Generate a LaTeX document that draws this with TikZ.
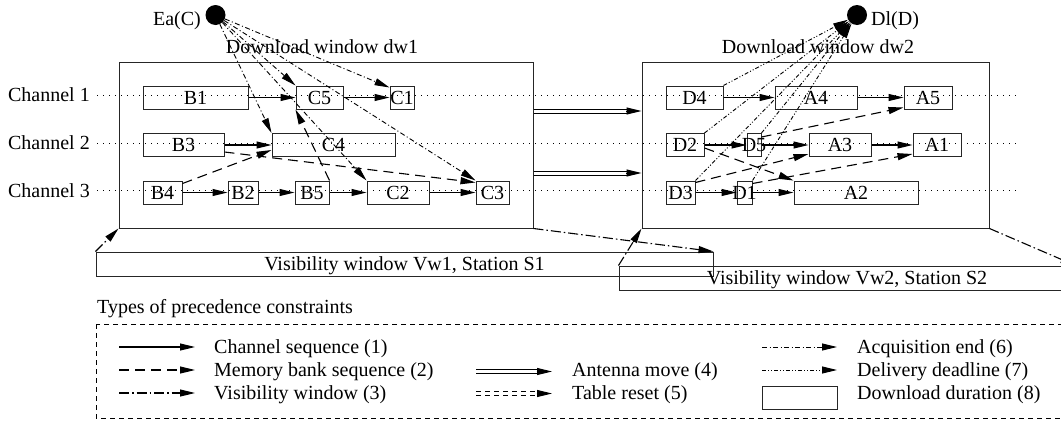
\documentclass[tikz,border=0pt]{standalone}
\usepackage{fontspec}
\setmainfont{Liberation Serif}
\usetikzlibrary{arrows.meta}
\begin{document}
\begin{tikzpicture}[x=1pt,y=-1pt,
  font=\fontsize{20}{24}\selectfont,
  >={Triangle[length=15pt,width=7pt]},
  box/.style={draw=black!85, line width=1pt, inner sep=0pt, minimum height=23pt, text height=13.2pt, text depth=0pt},
  win/.style={draw=black!85, line width=1pt, inner sep=0pt, text height=13.2pt, text depth=0pt},
  txt/.style={inner sep=0pt},
  chan/.style={line width=0.9pt, dash pattern=on 1pt off 5pt},
  seq/.style={->, line width=1.1pt},
  mem/.style={->, line width=1.1pt, dash pattern=on 10pt off 6pt},
  vis/.style={->, line width=1.1pt, dash pattern=on 10pt off 3pt on 1.5pt off 3pt},
  acq/.style={->, line width=0.9pt, dash pattern=on 5pt off 2.5pt on 1pt off 2.5pt},
  del/.style={->, line width=0.9pt, dash pattern=on 4pt off 2pt on 1pt off 2pt on 1pt off 2pt},
  ant/.style={line width=1pt, double distance=3pt},
  tab/.style={line width=1pt, double distance=3pt, dash pattern=on 5pt off 4pt}
]
\useasboundingbox (0,0) rectangle (1061,426);

% channel labels and dotted channel lines
\node[txt, anchor=base east] (ch1) at (90,101) {Channel 1};
\node[txt, anchor=base east] (ch2) at (90,149) {Channel 2};
\node[txt, anchor=base east] (ch3) at (90,197) {Channel 3};
\coordinate (ch1e) at (1018,95.5);
\coordinate (ch2e) at (1018,143);
\coordinate (ch3e) at (1018,190.5);
\draw[chan] (97,95.5) -- (ch1e);
\draw[chan] (97,143) -- (ch2e);
\draw[chan] (97,190.5) -- (ch3e);

% download windows
\node[win, minimum width=414pt, minimum height=166pt] (dw1) at (326,145) {};
\node[win, minimum width=347pt, minimum height=166pt] (dw2) at (815.5,145) {};
\node[txt, anchor=base] (dw1l) at (322,53) {Download window dw1};
\node[txt, anchor=base] (dw2l) at (818,53) {Download window dw2};

% visibility windows
\node[win, minimum width=617pt, minimum height=24pt] (vw1) at (404.5,264) {Visibility window Vw1, Station S1};
\node[win, minimum width=456pt, minimum height=24pt] (vw2) at (847,278) {Visibility window Vw2, Station S2};

% event circles
\node[circle, fill, inner sep=0pt, minimum size=20pt] (Ea) at (215.5,15) {};
\node[txt, anchor=base east] (Eal) at (201,25) {Ea(C)};
\node[circle, fill, inner sep=0pt, minimum size=20pt] (Dl) at (857,15) {};
\node[txt, anchor=base west] (Dll) at (871,25) {Dl(D)};

% boxes dw1
\node[box, minimum width=105pt] (B1) at (195.5,97.5) {\makebox[0pt]{B1}};
\node[box, minimum width=47pt] (C5) at (319.5,97.5) {\makebox[0pt]{C5}};
\node[box, minimum width=24pt] (C1) at (402,97.5) {\makebox[0pt]{C1}};
\node[box, minimum width=81pt] (B3) at (183.5,145) {\makebox[0pt]{B3}};
\node[box, minimum width=123pt] (C4) at (333.5,145) {\makebox[0pt]{C4}};
\node[box, minimum width=39pt] (B4) at (162.5,192.5) {\makebox[0pt]{B4}};
\node[box, minimum width=30pt] (B2) at (243,192.5) {\makebox[0pt]{B2}};
\node[box, minimum width=34pt] (B5) at (312,192.5) {\makebox[0pt]{B5}};
\node[box, minimum width=62pt] (C2) at (398,192.5) {\makebox[0pt]{C2}};
\node[box, minimum width=33pt] (C3) at (492.5,192.5) {\makebox[0pt]{C3}};

% boxes dw2
\node[box, minimum width=57pt] (D4) at (694.5,97.5) {\makebox[0pt]{D4}};
\node[box, minimum width=82pt] (A4) at (816,97.5) {\makebox[0pt]{A4}};
\node[box, minimum width=48pt] (A5) at (928,97.5) {\makebox[0pt]{A5}};
\node[box, minimum width=38pt] (D2) at (685,145) {\makebox[0pt]{D2}};
\node[box, minimum width=14pt] (D5) at (754,145) {\makebox[0pt]{D5}};
\node[box, minimum width=62pt] (A3) at (840,145) {\makebox[0pt]{A3}};
\node[box, minimum width=48pt] (A1) at (937,145) {\makebox[0pt]{A1}};
\node[box, minimum width=29pt] (D3) at (680.5,192.5) {\makebox[0pt]{D3}};
\node[box, minimum width=15pt] (D1) at (744.5,192.5) {\makebox[0pt]{D1}};
\node[box, minimum width=124pt] (A2) at (856,192.5) {\makebox[0pt]{A2}};

% channel sequence
\draw[seq] (B1) -- (C5);
\draw[seq] (C5) -- (C1);
\draw[seq] (B3) -- (C4);
\draw[seq] (B4) -- (B2);
\draw[seq] (B2) -- (B5);
\draw[seq] (B5) -- (C2);
\draw[seq] (C2) -- (C3);
\draw[seq] (D4) -- (A4);
\draw[seq] (A4) -- (A5);
\draw[seq] (D2) -- (D5);
\draw[seq] (D5) -- (A3);
\draw[seq] (A3) -- (A1);
\draw[seq] (D3) -- (D1);
\draw[seq] (D1) -- (A2);

% memory bank sequence
\draw[mem] ([yshift=-3pt]B4.north east) -- ([yshift=-5pt]C4.west);
\draw[mem] ([yshift=-7pt]B3.east) -- ([yshift=-2pt]C3.north west);
\draw[mem] (B5.north east) -- (C5.south west);
\draw[mem] ([yshift=-4pt]D5.north east) -- ([yshift=2pt]A5.south west);
\draw[mem] ([yshift=-2pt]D3.north east) -- ([yshift=3pt]A3.south west);
\draw[mem] ([yshift=-3pt]D2.east) -- (A2.north west);
\draw[mem] ([yshift=-3pt]D1.north east) -- ([yshift=3pt]A1.south west);

% acquisition end
\draw[acq] (Ea) -- (C4.north west);
\draw[acq] (Ea) -- (C5.north west);
\draw[acq] (Ea) -- (C2.north west);
\draw[acq] (Ea) -- (C3.north west);
\draw[acq] (Ea) -- ([yshift=-2pt]C1.north west);

% delivery deadline
\draw[del] (D4.north east) -- (Dl);
\draw[del] (D2.north east) -- (Dl);
\draw[del] (D3.north east) -- (Dl);
\draw[del] (D5.north east) -- (Dl);
\draw[del] (D1.north east) -- (Dl);

% visibility window
\draw[vis] (vw1.north west) -- (dw1.south west);
\draw[vis] (dw1.south east) -- (vw1.north east);
\draw[vis] (vw2.north west) -- (dw2.south west);
\draw[vis] (dw2.south east) -- (vw2.north east);

% antenna moves
\coordinate (am1) at (dw2.west |- 0,111);
\coordinate (am2) at (dw2.west |- 0,173);
\coordinate (as1) at (dw1.east |- 0,111);
\coordinate (as2) at (dw1.east |- 0,173);
\draw[ant] (as1) -- ([xshift=-14pt]am1);
\draw[->, line width=1pt] ([xshift=-15.5pt]am1) -- (am1);
\draw[ant] (as2) -- ([xshift=-14pt]am2);
\draw[->, line width=1pt] ([xshift=-15.5pt]am2) -- (am2);

% legend
\node[txt, anchor=base west] (legt) at (97,313) {Types of precedence constraints};
\draw[line width=0.7pt, dash pattern=on 5pt off 4pt] (96,324) rectangle (1075,418);

\coordinate (l1a) at (119,347); \coordinate (l1b) at (195,347);
\coordinate (l2a) at (119,370); \coordinate (l2b) at (195,370);
\coordinate (l3a) at (119,393); \coordinate (l3b) at (195,393);
\draw[seq] (l1a) -- (l1b);
\draw[mem] (l2a) -- (l2b);
\draw[vis] (l3a) -- (l3b);
\node[txt, anchor=base west] (t1) at (214,353.5) {Channel sequence (1)};
\node[txt, anchor=base west] (t2) at (214,376.5) {Memory bank sequence (2)};
\node[txt, anchor=base west] (t3) at (214,399.5) {Visibility window (3)};

\coordinate (l4a) at (476,371.5); \coordinate (l4b) at (552,371.5);
\coordinate (l5a) at (476,393.5); \coordinate (l5b) at (552,393.5);
\draw[ant] (l4a) -- ([xshift=-14pt]l4b);
\draw[->, line width=1pt] ([xshift=-15.5pt]l4b) -- (l4b);
\draw[tab] (l5a) -- ([xshift=-14pt]l5b);
\draw[->, line width=1pt] ([xshift=-15.5pt]l5b) -- (l5b);
\node[txt, anchor=base west] (t4) at (572,376.5) {Antenna move (4)};
\node[txt, anchor=base west] (t5) at (572,399.5) {Table reset (5)};

\coordinate (l6a) at (762,347); \coordinate (l6b) at (837,347);
\coordinate (l7a) at (762,370); \coordinate (l7b) at (837,370);
\draw[acq] (l6a) -- (l6b);
\draw[del] (l7a) -- (l7b);
\node[box, minimum width=75pt] (l8) at (799.5,397.5) {};
\node[txt, anchor=base west] (t6) at (857,353.5) {Acquisition end (6)};
\node[txt, anchor=base west] (t7) at (857,376.5) {Delivery deadline (7)};
\node[txt, anchor=base west] (t8) at (857,399.5) {Download duration (8)};
\end{tikzpicture}
\end{document}
